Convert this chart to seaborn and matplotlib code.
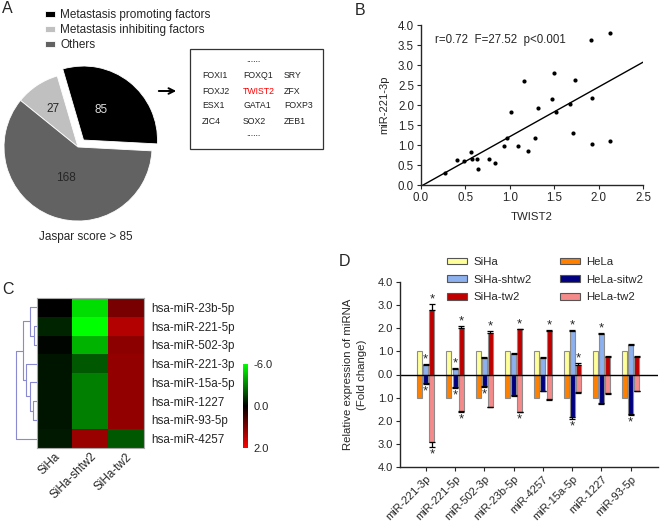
import numpy as np
import pandas as pd
import matplotlib
matplotlib.use('Agg')
import matplotlib.pyplot as plt
import seaborn as sns
from matplotlib.colors import LinearSegmentedColormap, TwoSlopeNorm
from matplotlib.patches import Rectangle, Patch

# ---- A: transcription factors with binding sites (Jaspar score > 85)
pie_labels = ['Metastasis promoting factors', 'Metastasis inhibiting factors', 'Others']
pie_counts = [85, 27, 168]
pie_colors = ['#000000', '#c0c0c0', '#626262']
box_genes = [['FOXI1', 'FOXQ1', 'SRY'],
             ['FOXJ2', 'TWIST2', 'ZFX'],
             ['ESX1', 'GATA1', 'FOXP3'],
             ['ZIC4', 'SOX2', 'ZEB1']]

# ---- B: TWIST2 vs miR-221-3p
twist2 = [0.27, 0.40, 0.48, 0.56, 0.57, 0.63, 0.64, 0.77, 0.83, 0.94, 0.97, 1.01, 1.09, 1.16,
          1.20, 1.28, 1.32, 1.48, 1.50, 1.52, 1.68, 1.71, 1.73, 1.93, 1.93, 1.91, 2.13, 2.13]
mir221 = [0.29, 0.62, 0.61, 0.83, 0.65, 0.64, 0.41, 0.65, 0.56, 0.98, 1.18, 1.83, 0.98, 2.60,
          0.84, 1.18, 1.93, 2.14, 2.80, 1.82, 2.03, 1.30, 2.62, 2.17, 1.03, 3.62, 3.80, 1.11]
fit_slope = 1.24
fit_intercept = -0.03

# ---- C: heatmap (log2 fold change)
heat_rows = ['hsa-miR-23b-5p', 'hsa-miR-221-5p', 'hsa-miR-502-3p', 'hsa-miR-221-3p',
             'hsa-miR-15a-5p', 'hsa-miR-1227', 'hsa-miR-93-5p', 'hsa-miR-4257']
heat_cols = ['SiHa', 'SiHa-shtw2', 'SiHa-tw2']
heat_siha = [0.0, -0.8, -0.1, -0.5, -0.5, -0.5, -0.5, -0.6]
heat_shtw2 = [-5.2, -6.0, -4.2, -2.1, -3.0, -3.0, -3.0, 1.2]
heat_tw2 = [0.95, 1.4, 1.1, 1.15, 1.15, 1.15, 1.15, -2.1]
# row clustering: (node a, node b, height), new nodes numbered from 8
dendro_merges = [(1, 2, 0.13), (0, 8, 0.33), (5, 6, 0.15), (4, 10, 0.33),
                 (3, 11, 0.53), (9, 12, 0.67), (7, 13, 1.0)]

# ---- D: qPCR fold change
mirnas = ['miR-221-3p', 'miR-221-5p', 'miR-502-3p', 'miR-23b-5p',
          'miR-4257', 'miR-15a-5p', 'miR-1227', 'miR-93-5p']
up_groups = ['SiHa', 'SiHa-shtw2', 'SiHa-tw2']
down_groups = ['HeLa', 'HeLa-sitw2', 'HeLa-tw2']
up_colors = ['#ffff99', '#8db0ee', '#c00000']
down_colors = ['#ff8000', '#000080', '#f48a8a']
siha = [1.0, 1.0, 1.0, 1.0, 1.0, 1.0, 1.0, 1.0]
siha_shtw2 = [0.43, 0.245, 0.73, 0.88, 0.72, 1.87, 1.75, 1.27]
siha_tw2 = [2.8, 2.02, 1.8, 1.95, 1.87, 0.40, 0.75, 0.75]
hela = [-1.0, -1.0, -1.0, -1.0, -1.0, -1.0, -1.0, -1.0]
hela_sitw2 = [-0.35, -0.55, -0.48, -0.88, -0.70, -1.85, -1.22, -1.70]
hela_tw2 = [-2.93, -1.59, -1.39, -1.62, -1.08, -0.77, -0.80, -0.70]
err_siha = [0, 0, 0, 0, 0, 0, 0, 0]
err_shtw2 = [0.03, 0.03, 0.04, 0.04, 0.03, 0.04, 0.03, 0.04]
err_tw2 = [0.26, 0.06, 0.08, 0.03, 0.05, 0.08, 0.04, 0.03]
err_hela = [0, 0, 0, 0, 0, 0, 0, 0]
err_sitw2 = [0.06, 0.03, 0.06, 0.05, 0.03, 0.06, 0.04, 0.04]
err_hela_tw2 = [0.19, 0.02, 0.02, 0.02, 0.03, 0.04, 0.04, 0.03]
star_siha = [0, 0, 0, 0, 0, 0, 0, 0]
star_shtw2 = [1, 1, 0, 0, 0, 1, 1, 0]
star_tw2 = [1, 1, 1, 1, 1, 1, 0, 0]
star_hela = [0, 0, 0, 0, 0, 0, 0, 0]
star_sitw2 = [1, 1, 1, 0, 0, 1, 0, 1]
star_hela_tw2 = [1, 1, 0, 1, 0, 0, 0, 0]

sns.set_style('ticks')
plt.rcParams['font.family'] = ['Liberation Sans', 'DejaVu Sans']
plt.rcParams['axes.linewidth'] = 1.0

W, H = 660, 521
fig = plt.figure(figsize=(6.6, 5.21), dpi=100)


def rect(x0, y0, x1, y1):
    # pixel box (top-left origin) -> figure fraction
    return [x0 / W, 1 - y1 / H, (x1 - x0) / W, (y1 - y0) / H]


# overlay axes in pixel coordinates for free text
ov = fig.add_axes([0, 0, 1, 1])
ov.set_xlim(0, W)
ov.set_ylim(H, 0)
ov.axis('off')

for letter, x, y in [('A', 2, 1), ('B', 355, 3), ('C', 2, 282), ('D', 339, 254)]:
    ov.text(x, y, letter, fontsize=11.5, va='top', ha='left')

# ---- A
axA = fig.add_axes(rect(-14.5, 54.5, 170.5, 239.5))
wedges, texts = axA.pie(pie_counts, colors=pie_colors, startangle=-3, explode=(0.12, 0, 0),
                        labels=[str(c) for c in pie_counts],
                        wedgeprops=dict(edgecolor='white', linewidth=0.6),
                        textprops=dict(fontsize=8.5, ha='center', va='center'))
pie_label_r = [0.47, 0.62, 0.45]
for w, t, r, ex in zip(wedges, texts, pie_label_r, (0.12, 0, 0)):
    ang = np.deg2rad((w.theta1 + w.theta2) / 2 + (6 if ex else 0))
    t.set_position(((r + ex) * np.cos(ang), (r + ex) * np.sin(ang)))
    t.set_ha('center')
texts[0].set_color('#dddddd')
axA.set_xlim(-1.25, 1.25)
axA.set_ylim(-1.25, 1.25)
axA.set_aspect('equal')
fig.legend(wedges, pie_labels, loc='upper left', bbox_to_anchor=(45 / W, 1 - 9 / H),
           frameon=False, fontsize=8.5, handlelength=0.85, handleheight=0.35,
           labelspacing=0.27, handletextpad=0.45, borderpad=0, borderaxespad=0)
ov.text(86, 237, 'Jaspar score > 85', fontsize=8.5, ha='center', va='center')

ov.add_patch(Rectangle((190, 49), 133, 100, fill=False, edgecolor='#333333', lw=0.9))
ov.annotate('', xy=(179, 91), xytext=(156, 91),
            arrowprops=dict(arrowstyle='->', lw=1.4, color='black', mutation_scale=10))
ov.text(253, 59, '......', fontsize=6.3, ha='center', va='center', color='#333333')
ov.text(253, 133, '......', fontsize=6.3, ha='center', va='center', color='#333333')
for r, row in enumerate(box_genes):
    for c, gene in enumerate(row):
        ov.text(202 + 41 * c, 76 + 15 * r, gene, fontsize=6.3, va='center', ha='left',
                color='red' if gene == 'TWIST2' else '#222222')

# ---- B
axB = fig.add_axes(rect(421, 25, 643, 185))
sns.scatterplot(x=twist2, y=mir221, color='black', s=9, linewidth=0, ax=axB)
xs = np.array([0, 2.5])
axB.plot(xs, fit_intercept + fit_slope * xs, color='black', lw=1)
axB.set_xlim(0, 2.5)
axB.set_ylim(0, 4)
axB.set_xticks(np.arange(0, 2.51, 0.5))
axB.set_yticks(np.arange(0, 4.01, 0.5))
axB.set_xticklabels([f'{v:.1f}' for v in np.arange(0, 2.51, 0.5)])
axB.set_yticklabels([f'{v:.1f}' for v in np.arange(0, 4.01, 0.5)])
axB.tick_params(labelsize=8.3, length=3, width=0.8, pad=2)
axB.set_xlabel('TWIST2', fontsize=8.2, labelpad=6)
axB.set_ylabel('miR-221-3p', fontsize=8, labelpad=6)
axB.text(0.16, 3.62, 'r=0.72  F=27.52  p<0.001', fontsize=8.3, va='center')
sns.despine(ax=axB)

# ---- C
axC = fig.add_axes(rect(36.5, 298, 144, 448))
cax = fig.add_axes(rect(243, 364, 248, 448))
heat = pd.DataFrame({'SiHa': heat_siha, 'SiHa-shtw2': heat_shtw2, 'SiHa-tw2': heat_tw2},
                    index=heat_rows)
gkr = LinearSegmentedColormap.from_list('gkr', ['#00ff00', '#000000', '#ff0000'])
sns.heatmap(heat, cmap=gkr, norm=TwoSlopeNorm(vmin=-6, vcenter=0, vmax=2),
            ax=axC, cbar_ax=cax)
axC.yaxis.tick_right()
axC.set_yticklabels(heat_rows, rotation=0, fontsize=8.4)
axC.set_xticklabels(heat_cols, rotation=45, ha='right', rotation_mode='anchor', fontsize=8.4)
axC.tick_params(length=0, pad=5)
axC.tick_params(axis='x', pad=2)
for s in axC.spines.values():
    s.set_visible(True)
    s.set_color('#aaaaaa')
    s.set_linewidth(0.8)
cbar = axC.collections[0].colorbar
cbar.set_ticks([-6, 0, 2])
cbar.set_ticklabels(['-6.0', '0.0', '2.0'])
cbar.ax.tick_params(length=0, labelsize=8, pad=4)
cbar.outline.set_visible(False)
cbar.ax.invert_yaxis()

# dendrogram for rows
axDen = fig.add_axes(rect(15.5, 298, 36.5, 448))
node_y = {i: i + 0.5 for i in range(len(heat_rows))}
node_h = {i: 0.0 for i in range(len(heat_rows))}
for k, (a, b, h) in enumerate(dendro_merges):
    nid = len(heat_rows) + k
    for n in (a, b):
        axDen.plot([node_h[n], h], [node_y[n], node_y[n]], color='#8a8ad2', lw=0.8)
    axDen.plot([h, h], [node_y[a], node_y[b]], color='#8a8ad2', lw=0.8)
    node_y[nid] = (node_y[a] + node_y[b]) / 2
    node_h[nid] = h
axDen.set_xlim(1.02, 0)
axDen.set_ylim(len(heat_rows), 0)
axDen.axis('off')

# ---- D
axD = fig.add_axes(rect(400, 282, 658, 467))
df_up = pd.DataFrame({'miRNA': mirnas * 3,
                      'group': sum([[g] * len(mirnas) for g in up_groups], []),
                      'value': siha + siha_shtw2 + siha_tw2})
df_down = pd.DataFrame({'miRNA': mirnas * 3,
                        'group': sum([[g] * len(mirnas) for g in down_groups], []),
                        'value': hela + hela_sitw2 + hela_tw2})
for d, groups, cols in [(df_up, up_groups, up_colors), (df_down, down_groups, down_colors)]:
    sns.barplot(data=d, x='miRNA', y='value', hue='group', hue_order=groups, palette=cols,
                width=0.63, gap=0.18, errorbar=None, saturation=1, edgecolor='#8c8c8c',
                linewidth=0.8, legend=False, ax=axD)

errs = [err_siha, err_shtw2, err_tw2, err_hela, err_sitw2, err_hela_tw2]
stars = [star_siha, star_shtw2, star_tw2, star_hela, star_sitw2, star_hela_tw2]
for cont, err, star in zip(axD.containers, errs, stars):
    for bar, e, st in zip(cont, err, star):
        x = bar.get_x() + bar.get_width() / 2
        v = bar.get_y() + bar.get_height()
        up = v > 0
        end = v + e if up else v - e
        if e > 0:
            axD.errorbar(x, v, yerr=[[0], [e]] if up else [[e], [0]], fmt='none',
                         ecolor='black', elinewidth=0.9, capsize=2, capthick=0.9)
        if st:
            axD.text(x, end + 0.2 if up else end - 0.32, '*', fontsize=9.5,
                     ha='center', va='center')

axD.axhline(0, color='black', lw=1)
axD.set_xlim(-0.88, 7.93)
axD.set_ylim(-4, 4)
yt = np.arange(-4, 4.01, 1)
axD.set_yticks(yt)
axD.set_yticklabels([f'{abs(v):.1f}' for v in yt])
axD.set_xticks(range(len(mirnas)))
axD.set_xticklabels(mirnas, rotation=45, ha='right', rotation_mode='anchor')
axD.tick_params(labelsize=8, length=3, width=0.8, pad=2)
axD.set_xlabel('')
axD.set_ylabel('Relative expression of miRNA\n(Fold change)', fontsize=8.2, linespacing=1.4,
               labelpad=8)
sns.despine(ax=axD)

handles = [Patch(facecolor=c, edgecolor='#555555', lw=0.8) for c in up_colors + down_colors]
axD.legend(handles, up_groups + down_groups, ncol=2, loc='upper left',
           bbox_to_anchor=(447 / W, 1 - 257 / H), bbox_transform=fig.transFigure,
           frameon=False, fontsize=8.2, handlelength=1.75, handleheight=0.5,
           labelspacing=0.68, columnspacing=2.5, handletextpad=0.55, borderpad=0,
           borderaxespad=0)

fig.savefig('out.png', dpi=100)
